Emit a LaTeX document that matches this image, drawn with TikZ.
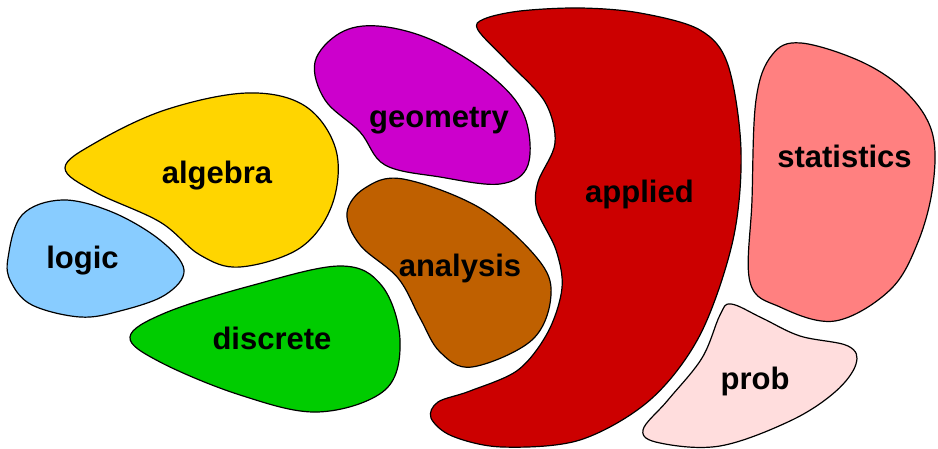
\documentclass[tikz,border=0pt]{standalone}
\usepackage{fontspec}
\setmainfont{Liberation Sans}
\definecolor{cAlg}{HTML}{FFD500}
\definecolor{cLog}{HTML}{88CCFF}
\definecolor{cDis}{HTML}{00CC00}
\definecolor{cGeo}{HTML}{CC00CC}
\definecolor{cAna}{HTML}{BF6000}
\definecolor{cApp}{HTML}{CC0000}
\definecolor{cSta}{HTML}{FF8080}
\definecolor{cPro}{HTML}{FFDDDD}
\tikzset{
  blob/.style={draw=black, line width=1.2pt},
  lab/.style={anchor=base, inner sep=0pt, font=\fontsize{31}{37}\selectfont\bfseries}
}
\begin{document}
\begin{tikzpicture}[x=1pt,y=-1pt]
\useasboundingbox (0,0) rectangle (938,449);
% algebra
\draw[blob, fill=cAlg] plot[smooth cycle, tension=0.6] coordinates {
 (65,168) (95,143) (165,110) (247,93) (305,106) (336,150) (332,205) (300,248) (240,267) (200,255) (160,222) (95,192)};
% logic
\draw[blob, fill=cLog] plot[smooth cycle, tension=0.6] coordinates {
 (8,258) (22,215) (62,200) (112,212) (160,240) (184,270) (165,295) (120,311) (80,317) (32,305) (11,282)};
% discrete
\draw[blob, fill=cDis] plot[smooth cycle, tension=0.6] coordinates {
 (130,337) (165,313) (250,286) (340,266) (382,286) (400,340) (385,390) (318,412) (240,395) (160,362)};
% geometry
\draw[blob, fill=cGeo] plot[smooth cycle, tension=0.6] coordinates {
 (315,62) (340,33) (378,26) (432,40) (490,75) (524,115) (528,165) (500,184) (440,177) (385,165) (360,132) (325,100)};
% analysis
\draw[blob, fill=cAna] plot[smooth cycle, tension=0.6] coordinates {
 (347,213) (365,188) (403,179) (480,208) (537,258) (551,295) (532,340) (472,367) (440,352) (420,318) (398,278) (360,245)};
% applied
\draw[blob, fill=cApp] plot[smooth cycle, tension=0.55] coordinates {
 (478,30) (508,62) (545,102) (555,143) (538,182) (537,210) (556,250) (562,288) (548,332) (518,370) (470,391) (438,402) (431,418) (452,436) (502,447) (580,440) (650,400) (700,335) (733,240) (741,150) (728,65) (700,30) (640,13) (580,8) (520,11) (484,19)};
% statistics
\draw[blob, fill=cSta] plot[smooth cycle, tension=0.6] coordinates {
 (801,43) (862,62) (906,92) (932,132) (933,185) (918,242) (890,290) (835,321) (780,307) (750,282) (752,200) (756,100) (772,55)};
% prob
\draw[blob, fill=cPro] plot[smooth cycle, tension=0.6] coordinates {
 (731,304) (762,318) (800,336) (848,346) (856,364) (835,392) (790,421) (720,446) (660,443) (643,430) (668,400) (702,358) (720,315)};
\node[lab] (algebra) at (217,184) {algebra};
\node[lab] (logic) at (82.5,269) {logic};
\node[lab] (discrete) at (272,349) {discrete};
\node[lab] (geometry) at (439,128) {geometry};
\node[lab] (analysis) at (460,277) {analysis};
\node[lab] (applied) at (639.5,203) {applied};
\node[lab] (statistics) at (844.5,168) {statistics};
\node[lab] (prob) at (755,389) {prob};
\end{tikzpicture}
\end{document}
